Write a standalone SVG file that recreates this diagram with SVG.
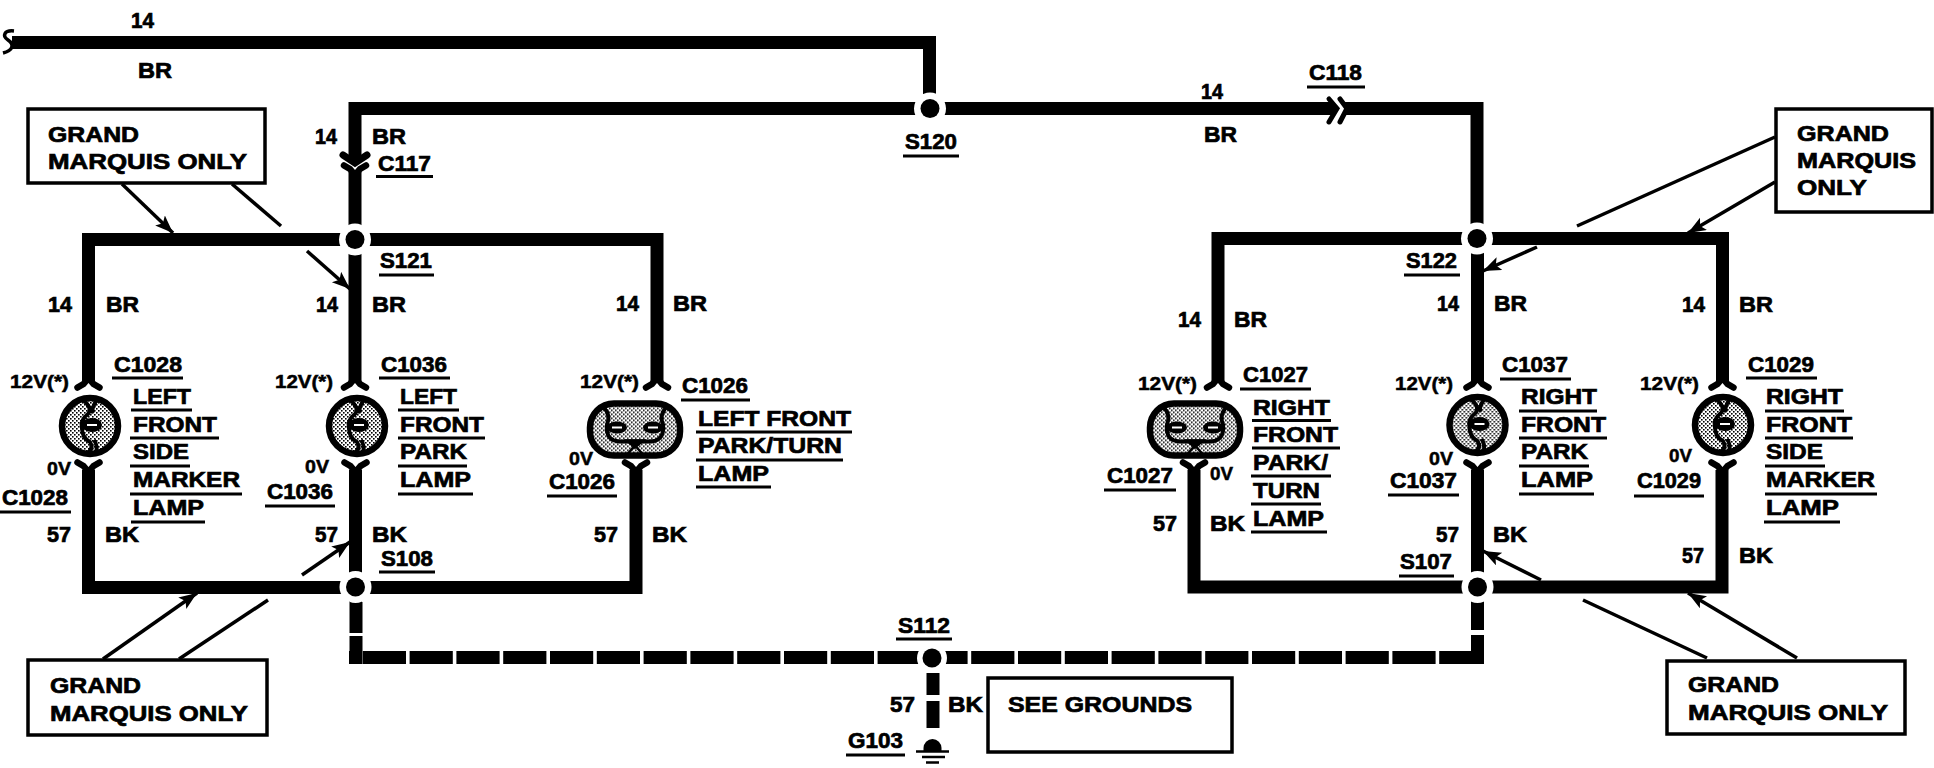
<svg xmlns="http://www.w3.org/2000/svg" width="1934" height="768" viewBox="0 0 1934 768">
<style>
text{font-family:"Liberation Sans",Arial,sans-serif;font-weight:700;fill:#000;font-size:22px;stroke:#000;stroke-width:.7px}
text.s{font-size:18px;stroke-width:.5px}
.w{fill:none;stroke:#000;stroke-width:13;stroke-linejoin:miter}
.d{stroke-dasharray:43.2 3.6;stroke-dashoffset:33}
.ul{fill:none;stroke:#000;stroke-width:3}
.box{fill:#fff;stroke:#000;stroke-width:3.5}
.lead{fill:none;stroke:#000;stroke-width:3.5}
.halo{fill:#fff}
.thin{fill:none;stroke:#000;stroke-width:4}
</style>
<defs>
<pattern id="dots" width="4" height="4" patternUnits="userSpaceOnUse">
<rect width="4" height="4" fill="#fff"/><rect width="1.6" height="1.6" fill="#000"/><rect x="2" y="2" width="1.6" height="1.6" fill="#000"/>
</pattern>
<marker id="ah" markerUnits="userSpaceOnUse" markerWidth="20" markerHeight="16" refX="18" refY="7" orient="auto">
<path d="M0 0L18 7L0 14L4 7Z" fill="#000"/>
</marker>
<g id="fork"><path d="M-11 6.500L-5 3L0-3L5 3L11 6.500" fill="none" stroke="#000" stroke-width="6.500" stroke-linecap="round" stroke-linejoin="round"/></g>
<g id="round">
<circle r="28" fill="url(#dots)" stroke="#000" stroke-width="6.500"/>
<path d="M-7-26Q3-18-2-12Q-10-6-8 2Q-8 12 0 16Q4 22-2 27" class="thin"/>
<path d="M7-26Q1-18 3-13M4 14Q8 20 6 26" class="thin"/>
<ellipse cx="2" cy="-1" rx="10" ry="7" fill="#000"/>
<path d="M-3-1H7" stroke="#fff" stroke-width="2"/>
</g>
<g id="oval">
<rect x="-45" y="-26" width="90" height="52" rx="24" fill="url(#dots)" stroke="#000" stroke-width="6.500"/>
<path d="M-31-22Q-24-14-28-5Q-30 12-14 12H14Q30 12 28-5Q24-14 31-22" class="thin"/>
<ellipse cx="-18" cy="-2" rx="10" ry="6" fill="#000"/><ellipse cx="18" cy="-2" rx="10" ry="6" fill="#000"/>
<path d="M-23-2H-13M13-2H23" stroke="#fff" stroke-width="2"/>
<path d="M0 18L-8 11H8ZM0 16L-8 25M0 16L8 25" fill="#000" stroke="#000" stroke-width="2.500"/>
</g>
</defs>
<rect width="1934" height="768" fill="#fff"/>

<g id="connectors">
<path class="w" d="M12 42.500H929.500V94"/>
<path class="w" d="M355 160V108.500H1334"/>
<path class="w" d="M1345 108.500H1477V238"/>
<path class="w" d="M355 172V382"/>
<path class="w" d="M88.500 382V239.500H657V382"/>
<path class="w" d="M88.500 470V587.500H636V470"/>
<path class="w" d="M355.500 470V602"/>
<path class="w" d="M1218 382V238.500H1722.500V382"/>
<path class="w" d="M1477.500 238V382"/>
<path class="w" d="M1194 470V587H1722V470"/>
<path class="w" d="M1477.500 470V602"/>
<path class="w d" d="M349 657.500H1484"/>
<path class="w" d="M356 602V633M356 636V664M1477.500 602V630M1477.500 635V664"/>
<path class="w" d="M933 673V695M933 701V728"/>
<path d="M14 31C4 30 2 36 8 40C14 44 14 50 3 53" fill="none" stroke="#000" stroke-width="3.500"/>
<path d="M343 155L355 163L367 155" fill="none" stroke="#000" stroke-width="7" stroke-linecap="round"/>
<use href="#fork" transform="translate(355 172) scale(1 -1)"/>
<path d="M1329 99L1337 108.500L1329 122" fill="none" stroke="#000" stroke-width="5" stroke-linecap="round"/>
<path d="M1340 99L1347 108.500L1340 122" fill="none" stroke="#000" stroke-width="5" stroke-linecap="round"/>
<path class="lead" marker-end="url(#ah)" d="M122 184L173 233"/>
<path class="lead" d="M232 184L281 226"/>
<path class="lead" marker-end="url(#ah)" d="M307 251L350 289"/>
<path class="lead" marker-end="url(#ah)" d="M103 659L197 593"/>
<path class="lead" d="M179 659L268 600"/>
<path class="lead" marker-end="url(#ah)" d="M302 575L350 542"/>
<path class="lead" d="M1775 137L1577 226"/>
<path class="lead" marker-end="url(#ah)" d="M1775 182L1688 233"/>
<path class="lead" marker-end="url(#ah)" d="M1537 247L1483 271"/>
<path class="lead" marker-end="url(#ah)" d="M1541 580L1483 551"/>
<path class="lead" d="M1583 600L1707 658"/>
<path class="lead" marker-end="url(#ah)" d="M1797 658L1688 593"/>
</g>

<g id="wire-labels">
<text x="131" y="28" textLength="23" lengthAdjust="spacingAndGlyphs">14</text>
<text x="138" y="78" textLength="34" lengthAdjust="spacingAndGlyphs">BR</text>
<text x="315" y="144" textLength="22" lengthAdjust="spacingAndGlyphs">14</text>
<text x="372" y="144" textLength="34" lengthAdjust="spacingAndGlyphs">BR</text>
<text x="1201" y="99" textLength="22" lengthAdjust="spacingAndGlyphs">14</text>
<text x="1204" y="142" textLength="33" lengthAdjust="spacingAndGlyphs">BR</text>
<text x="48" y="312" textLength="24" lengthAdjust="spacingAndGlyphs">14</text>
<text x="106" y="312" textLength="33" lengthAdjust="spacingAndGlyphs">BR</text>
<text x="316" y="312" textLength="22" lengthAdjust="spacingAndGlyphs">14</text>
<text x="372" y="312" textLength="34" lengthAdjust="spacingAndGlyphs">BR</text>
<text x="616" y="311" textLength="23" lengthAdjust="spacingAndGlyphs">14</text>
<text x="673" y="311" textLength="34" lengthAdjust="spacingAndGlyphs">BR</text>
<text x="1178" y="327" textLength="23" lengthAdjust="spacingAndGlyphs">14</text>
<text x="1234" y="327" textLength="33" lengthAdjust="spacingAndGlyphs">BR</text>
<text x="1437" y="311" textLength="22" lengthAdjust="spacingAndGlyphs">14</text>
<text x="1494" y="311" textLength="33" lengthAdjust="spacingAndGlyphs">BR</text>
<text x="1682" y="312" textLength="23" lengthAdjust="spacingAndGlyphs">14</text>
<text x="1739" y="312" textLength="34" lengthAdjust="spacingAndGlyphs">BR</text>
<text x="47" y="542" textLength="24" lengthAdjust="spacingAndGlyphs">57</text>
<text x="105" y="542" textLength="34" lengthAdjust="spacingAndGlyphs">BK</text>
<text x="315" y="542" textLength="23" lengthAdjust="spacingAndGlyphs">57</text>
<text x="372" y="542" textLength="35" lengthAdjust="spacingAndGlyphs">BK</text>
<text x="594" y="542" textLength="24" lengthAdjust="spacingAndGlyphs">57</text>
<text x="652" y="542" textLength="35" lengthAdjust="spacingAndGlyphs">BK</text>
<text x="1153" y="531" textLength="24" lengthAdjust="spacingAndGlyphs">57</text>
<text x="1210" y="531" textLength="35" lengthAdjust="spacingAndGlyphs">BK</text>
<text x="1436" y="542" textLength="23" lengthAdjust="spacingAndGlyphs">57</text>
<text x="1493" y="542" textLength="34" lengthAdjust="spacingAndGlyphs">BK</text>
<text x="1682" y="563" textLength="22" lengthAdjust="spacingAndGlyphs">57</text>
<text x="1739" y="563" textLength="34" lengthAdjust="spacingAndGlyphs">BK</text>
<text x="890" y="712" textLength="25" lengthAdjust="spacingAndGlyphs">57</text>
<text x="948" y="712" textLength="35" lengthAdjust="spacingAndGlyphs">BK</text>
</g>

<g id="C117"><text x="378" y="171" textLength="53" lengthAdjust="spacingAndGlyphs">C117</text><path class="ul" d="M376 176.500H433"/></g>
<g id="C118"><text x="1309" y="80" textLength="53" lengthAdjust="spacingAndGlyphs">C118</text><path class="ul" d="M1307 87H1365"/></g>

<g id="S120"><circle class="halo" cx="930" cy="108.500" r="16"/><circle cx="930" cy="108.500" r="9.500"/><text x="905" y="149" textLength="52" lengthAdjust="spacingAndGlyphs">S120</text><path class="ul" d="M903 156H959"/></g>
<g id="S121"><circle class="halo" cx="355" cy="239.500" r="16"/><circle cx="355" cy="239.500" r="9.500"/><text x="380" y="268" textLength="52" lengthAdjust="spacingAndGlyphs">S121</text><path class="ul" d="M379 275H434"/></g>
<g id="S122"><circle class="halo" cx="1477" cy="238.500" r="16"/><circle cx="1477" cy="238.500" r="9.500"/><text x="1406" y="268" textLength="51" lengthAdjust="spacingAndGlyphs">S122</text><path class="ul" d="M1404 275H1460"/></g>
<g id="S108"><circle class="halo" cx="355.500" cy="587" r="16"/><circle cx="355.500" cy="587" r="9.500"/><text x="381" y="566" textLength="52" lengthAdjust="spacingAndGlyphs">S108</text><path class="ul" d="M379 572H435"/></g>
<g id="S107"><circle class="halo" cx="1477.500" cy="587" r="16"/><circle cx="1477.500" cy="587" r="9.500"/><text x="1400" y="569" textLength="52" lengthAdjust="spacingAndGlyphs">S107</text><path class="ul" d="M1399 576H1454"/></g>
<g id="S112"><circle class="halo" cx="932" cy="658" r="15"/><circle cx="932" cy="658" r="9.500"/><text x="898" y="633" textLength="52" lengthAdjust="spacingAndGlyphs">S112</text><path class="ul" d="M896 639H952"/></g>

<g id="G103">
<path d="M923.500 748A9 9 0 0 1 941.500 748V751H923.500Z"/>
<path d="M916 751.500H949M922 757H945M926 762.500H939" stroke="#000" stroke-width="2.600"/>
<text x="848" y="748" textLength="55" lengthAdjust="spacingAndGlyphs">G103</text><path class="ul" d="M846 755H905"/>
</g>

<g id="lamp-C1028">
<use href="#fork" x="88.500" y="381"/><use href="#round" x="90" y="426"/><use href="#fork" transform="translate(88.500 469) scale(1 -1)"/>
<text class="s" x="10" y="388" textLength="59" lengthAdjust="spacingAndGlyphs">12V(*)</text>
<text class="s" x="47" y="475" textLength="24" lengthAdjust="spacingAndGlyphs">0V</text>
<text x="114" y="372" textLength="68" lengthAdjust="spacingAndGlyphs">C1028</text>
<text x="2" y="505" textLength="66" lengthAdjust="spacingAndGlyphs">C1028</text>
<text x="133" y="404" textLength="58" lengthAdjust="spacingAndGlyphs">LEFT</text>
<text x="133" y="432" textLength="84" lengthAdjust="spacingAndGlyphs">FRONT</text>
<text x="133" y="459" textLength="56" lengthAdjust="spacingAndGlyphs">SIDE</text>
<text x="133" y="487" textLength="107" lengthAdjust="spacingAndGlyphs">MARKER</text>
<text x="133" y="515" textLength="71" lengthAdjust="spacingAndGlyphs">LAMP</text>
<path class="ul" d="M112 378H183M0 512H71M131 410H192M130 438H219M130 466H190M130 494H242M131 522H205"/>
</g>
<g id="lamp-C1036">
<use href="#fork" x="355" y="381"/><use href="#round" x="357" y="426"/><use href="#fork" transform="translate(355.500 469) scale(1 -1)"/>
<text class="s" x="275" y="388" textLength="58" lengthAdjust="spacingAndGlyphs">12V(*)</text>
<text class="s" x="305" y="473" textLength="24" lengthAdjust="spacingAndGlyphs">0V</text>
<text x="381" y="372" textLength="66" lengthAdjust="spacingAndGlyphs">C1036</text>
<text x="267" y="499" textLength="66" lengthAdjust="spacingAndGlyphs">C1036</text>
<text x="400" y="404" textLength="57" lengthAdjust="spacingAndGlyphs">LEFT</text>
<text x="400" y="432" textLength="84" lengthAdjust="spacingAndGlyphs">FRONT</text>
<text x="400" y="459" textLength="67" lengthAdjust="spacingAndGlyphs">PARK</text>
<text x="400" y="487" textLength="71" lengthAdjust="spacingAndGlyphs">LAMP</text>
<path class="ul" d="M379 378H450M265 506H335M398 410H459M398 438H485M398 466H467M398 494H473"/>
</g>
<g id="lamp-C1026">
<use href="#fork" x="657" y="381"/><use href="#oval" x="635" y="429.500"/><use href="#fork" transform="translate(636 469) scale(1 -1)"/>
<text class="s" x="580" y="388" textLength="59" lengthAdjust="spacingAndGlyphs">12V(*)</text>
<text class="s" x="569" y="465" textLength="24" lengthAdjust="spacingAndGlyphs">0V</text>
<text x="682" y="393" textLength="66" lengthAdjust="spacingAndGlyphs">C1026</text>
<text x="549" y="489" textLength="66" lengthAdjust="spacingAndGlyphs">C1026</text>
<text x="698" y="426" textLength="153" lengthAdjust="spacingAndGlyphs">LEFT FRONT</text>
<text x="698" y="453" textLength="144" lengthAdjust="spacingAndGlyphs">PARK/TURN</text>
<text x="698" y="481" textLength="71" lengthAdjust="spacingAndGlyphs">LAMP</text>
<path class="ul" d="M681 400H750M547 496H617M696 432H852M696 460H843M696 487H771"/>
</g>
<g id="lamp-C1027">
<use href="#fork" x="1218" y="381"/><use href="#oval" x="1195" y="429.500"/><use href="#fork" transform="translate(1194 469) scale(1 -1)"/>
<text class="s" x="1138" y="390" textLength="59" lengthAdjust="spacingAndGlyphs">12V(*)</text>
<text class="s" x="1210" y="480" textLength="23" lengthAdjust="spacingAndGlyphs">0V</text>
<text x="1243" y="382" textLength="65" lengthAdjust="spacingAndGlyphs">C1027</text>
<text x="1107" y="483" textLength="66" lengthAdjust="spacingAndGlyphs">C1027</text>
<text x="1253" y="415" textLength="77" lengthAdjust="spacingAndGlyphs">RIGHT</text>
<text x="1253" y="442" textLength="85" lengthAdjust="spacingAndGlyphs">FRONT</text>
<text x="1253" y="470" textLength="75" lengthAdjust="spacingAndGlyphs">PARK/</text>
<text x="1253" y="498" textLength="67" lengthAdjust="spacingAndGlyphs">TURN</text>
<text x="1253" y="526" textLength="71" lengthAdjust="spacingAndGlyphs">LAMP</text>
<path class="ul" d="M1240 389H1311M1104 490H1176M1252 420.500H1331M1252 448H1340M1251 476H1331M1251 504H1321M1251 532H1327"/>
</g>
<g id="lamp-C1037">
<use href="#fork" x="1477.500" y="381"/><use href="#round" x="1477.500" y="425"/><use href="#fork" transform="translate(1477.500 469) scale(1 -1)"/>
<text class="s" x="1395" y="390" textLength="58" lengthAdjust="spacingAndGlyphs">12V(*)</text>
<text class="s" x="1429" y="465" textLength="24" lengthAdjust="spacingAndGlyphs">0V</text>
<text x="1502" y="372" textLength="66" lengthAdjust="spacingAndGlyphs">C1037</text>
<text x="1390" y="488" textLength="67" lengthAdjust="spacingAndGlyphs">C1037</text>
<text x="1521" y="404" textLength="76" lengthAdjust="spacingAndGlyphs">RIGHT</text>
<text x="1521" y="432" textLength="85" lengthAdjust="spacingAndGlyphs">FRONT</text>
<text x="1521" y="459" textLength="67" lengthAdjust="spacingAndGlyphs">PARK</text>
<text x="1521" y="487" textLength="72" lengthAdjust="spacingAndGlyphs">LAMP</text>
<path class="ul" d="M1500 379H1571M1388 495H1459M1519 411H1597M1519 438H1607M1519 466H1589M1519 494H1594"/>
</g>
<g id="lamp-C1029">
<use href="#fork" x="1722.500" y="381"/><use href="#round" x="1723" y="425"/><use href="#fork" transform="translate(1722.500 469) scale(1 -1)"/>
<text class="s" x="1640" y="390" textLength="59" lengthAdjust="spacingAndGlyphs">12V(*)</text>
<text class="s" x="1669" y="462" textLength="23" lengthAdjust="spacingAndGlyphs">0V</text>
<text x="1748" y="372" textLength="66" lengthAdjust="spacingAndGlyphs">C1029</text>
<text x="1637" y="488" textLength="64" lengthAdjust="spacingAndGlyphs">C1029</text>
<text x="1766" y="404" textLength="77" lengthAdjust="spacingAndGlyphs">RIGHT</text>
<text x="1766" y="432" textLength="86" lengthAdjust="spacingAndGlyphs">FRONT</text>
<text x="1766" y="459" textLength="57" lengthAdjust="spacingAndGlyphs">SIDE</text>
<text x="1766" y="487" textLength="109" lengthAdjust="spacingAndGlyphs">MARKER</text>
<text x="1766" y="515" textLength="73" lengthAdjust="spacingAndGlyphs">LAMP</text>
<path class="ul" d="M1746 378H1817M1634 496H1704M1765 411H1844M1765 438H1853M1765 466H1825M1765 494H1877M1764 522H1840"/>
</g>

<g id="note-top-left"><rect class="box" x="28" y="109" width="237" height="74"/><text x="48" y="142" textLength="91" lengthAdjust="spacingAndGlyphs">GRAND</text><text x="48" y="169" textLength="199" lengthAdjust="spacingAndGlyphs">MARQUIS ONLY</text></g>
<g id="note-bottom-left"><rect class="box" x="28" y="660" width="239" height="75"/><text x="50" y="693" textLength="91" lengthAdjust="spacingAndGlyphs">GRAND</text><text x="50" y="721" textLength="198" lengthAdjust="spacingAndGlyphs">MARQUIS ONLY</text></g>
<g id="note-top-right"><rect class="box" x="1776" y="109" width="156" height="103"/><text x="1797" y="141" textLength="92" lengthAdjust="spacingAndGlyphs">GRAND</text><text x="1797" y="168" textLength="119" lengthAdjust="spacingAndGlyphs">MARQUIS</text><text x="1797" y="195" textLength="70" lengthAdjust="spacingAndGlyphs">ONLY</text></g>
<g id="note-bottom-right"><rect class="box" x="1667" y="661" width="238" height="73"/><text x="1688" y="692" textLength="91" lengthAdjust="spacingAndGlyphs">GRAND</text><text x="1688" y="720" textLength="200" lengthAdjust="spacingAndGlyphs">MARQUIS ONLY</text></g>
<g id="note-grounds"><rect class="box" x="988" y="678" width="244" height="74"/><text x="1008" y="712" textLength="184" lengthAdjust="spacingAndGlyphs">SEE GROUNDS</text></g>
</svg>
